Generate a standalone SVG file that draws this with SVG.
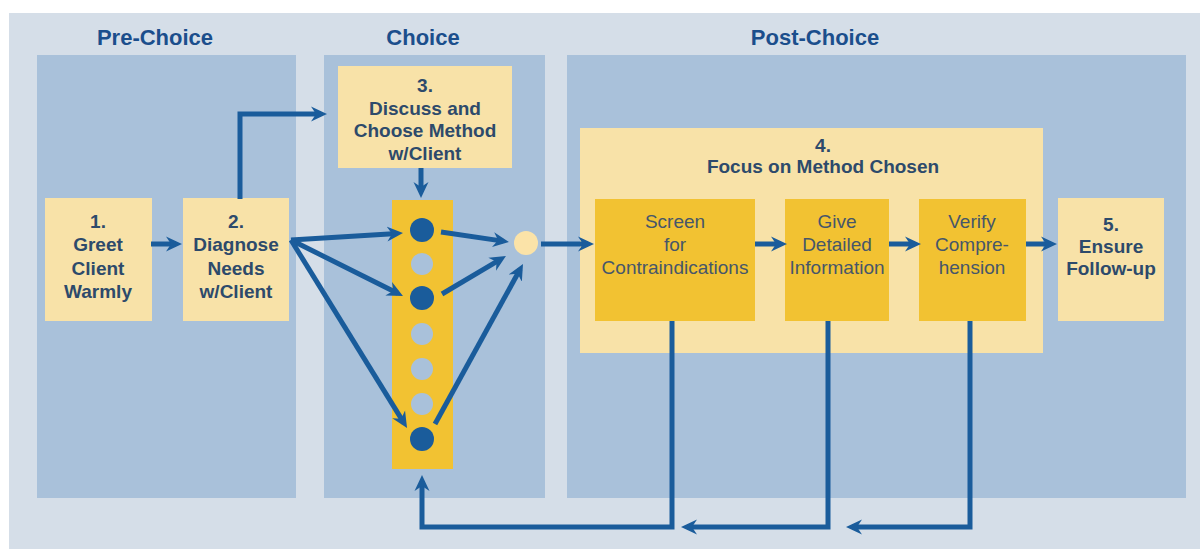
<svg xmlns="http://www.w3.org/2000/svg" width="1200" height="549" viewBox="0 0 1200 549">
<style>
.bg{fill:#d5dee8}
.panel{fill:#a9c1da}
.title{font-family:"Liberation Sans",Arial,sans-serif;font-weight:bold;font-size:22px;fill:#1b4e8c;text-anchor:middle}
.ln{fill:#f8e2a8}
.gold{fill:#f2c232}
.t{font-family:"Liberation Sans",Arial,sans-serif;font-weight:bold;font-size:19px;fill:#2d4a6b;text-anchor:middle}
.r{font-family:"Liberation Sans",Arial,sans-serif;font-size:19px;fill:#46566a;text-anchor:middle}
.arr{fill:none;stroke:#1a5c9b;stroke-width:5;stroke-linejoin:miter;marker-end:url(#ah)}
.dk{fill:#1a5c9b}
.lt{fill:#a9c1da}
</style>
<defs>
<marker id="ah" viewBox="0 0 16 16" refX="10" refY="8" markerWidth="16" markerHeight="16" markerUnits="userSpaceOnUse" orient="auto">
<path d="M0,0.5 L16,8 L0,15.5 L5,8 z" fill="#1a5c9b"/>
</marker>
</defs>
<rect x="0" y="0" width="1200" height="549" fill="#ffffff"/>
<rect class="bg" x="9" y="13" width="1191" height="536"/>
<g id="pre-choice">
<rect class="panel" x="37" y="55" width="259" height="443"/>
<text class="title" x="155" y="45">Pre-Choice</text>
</g>
<g id="choice">
<rect class="panel" x="324" y="55" width="221" height="443"/>
<text class="title" x="423" y="45">Choice</text>
</g>
<g id="post-choice">
<rect class="panel" x="567" y="55" width="619" height="443"/>
<text class="title" x="815" y="45">Post-Choice</text>
</g>
<g id="node1">
<rect class="ln" x="45" y="198" width="107" height="123"/>
<text class="t" x="98" y="228">1.</text>
<text class="t" x="98" y="251">Greet</text>
<text class="t" x="98" y="275">Client</text>
<text class="t" x="98" y="298">Warmly</text>
</g>
<g id="node2">
<rect class="ln" x="183" y="198" width="106" height="123"/>
<text class="t" x="236" y="228">2.</text>
<text class="t" x="236" y="251">Diagnose</text>
<text class="t" x="236" y="275">Needs</text>
<text class="t" x="236" y="298">w/Client</text>
</g>
<g id="node3">
<rect class="ln" x="338" y="66" width="174" height="102"/>
<text class="t" x="425" y="92">3.</text>
<text class="t" x="425" y="115">Discuss and</text>
<text class="t" x="425" y="137">Choose Method</text>
<text class="t" x="425" y="160">w/Client</text>
</g>
<g id="options">
<rect class="gold" x="392" y="200" width="61" height="269"/>
<circle class="dk" cx="422" cy="230" r="12"/>
<circle class="lt" cx="422" cy="264" r="11"/>
<circle class="dk" cx="422" cy="298" r="12"/>
<circle class="lt" cx="422" cy="334" r="11"/>
<circle class="lt" cx="422" cy="369" r="11"/>
<circle class="lt" cx="422" cy="404" r="11"/>
<circle class="dk" cx="422" cy="439" r="12"/>
</g>
<g id="merge">
<circle cx="526" cy="243" r="12" fill="#fbe3a8"/>
</g>
<g id="node4">
<rect class="ln" x="580" y="128" width="463" height="225"/>
<text class="t" x="823" y="152">4.</text>
<text class="t" x="823" y="173">Focus on Method Chosen</text>
</g>
<g id="screen">
<rect class="gold" x="595" y="199" width="160" height="122"/>
<text class="r" x="675" y="228">Screen</text>
<text class="r" x="675" y="251">for</text>
<text class="r" x="675" y="274">Contraindications</text>
</g>
<g id="give">
<rect class="gold" x="785" y="199" width="104" height="122"/>
<text class="r" x="837" y="228">Give</text>
<text class="r" x="837" y="251">Detailed</text>
<text class="r" x="837" y="274">Information</text>
</g>
<g id="verify">
<rect class="gold" x="919" y="199" width="107" height="122"/>
<text class="r" x="972" y="228">Verify</text>
<text class="r" x="972" y="251">Compre-</text>
<text class="r" x="972" y="274">hension</text>
</g>
<g id="node5">
<rect class="ln" x="1058" y="198" width="106" height="123"/>
<text class="t" x="1111" y="231">5.</text>
<text class="t" x="1111" y="253">Ensure</text>
<text class="t" x="1111" y="275">Follow-up</text>
</g>
<g id="connectors">
<path class="arr" d="M151,244 H176"/>
<path class="arr" d="M240,199 V114 H321"/>
<path class="arr" d="M421,168 V192"/>
<path class="arr" d="M291,240 L397,233.4"/>
<path class="arr" d="M291,240 L397.6,293.3"/>
<path class="arr" d="M291,240 L403.9,422.9"/>
<path class="arr" d="M441,232 L503,241.1"/>
<path class="arr" d="M442,294 L500.8,259.1"/>
<path class="arr" d="M435,424 L520.1,269.3"/>
<path class="arr" d="M541,244 H588"/>
<path class="arr" d="M755,244 H781"/>
<path class="arr" d="M889,244 H915"/>
<path class="arr" d="M1026,244 H1051"/>
<path class="arr" d="M672,321 V527 H422 V481"/>
<path class="arr" d="M828,321 V527 H687"/>
<path class="arr" d="M970,321 V527 H852"/>
</g>
</svg>
